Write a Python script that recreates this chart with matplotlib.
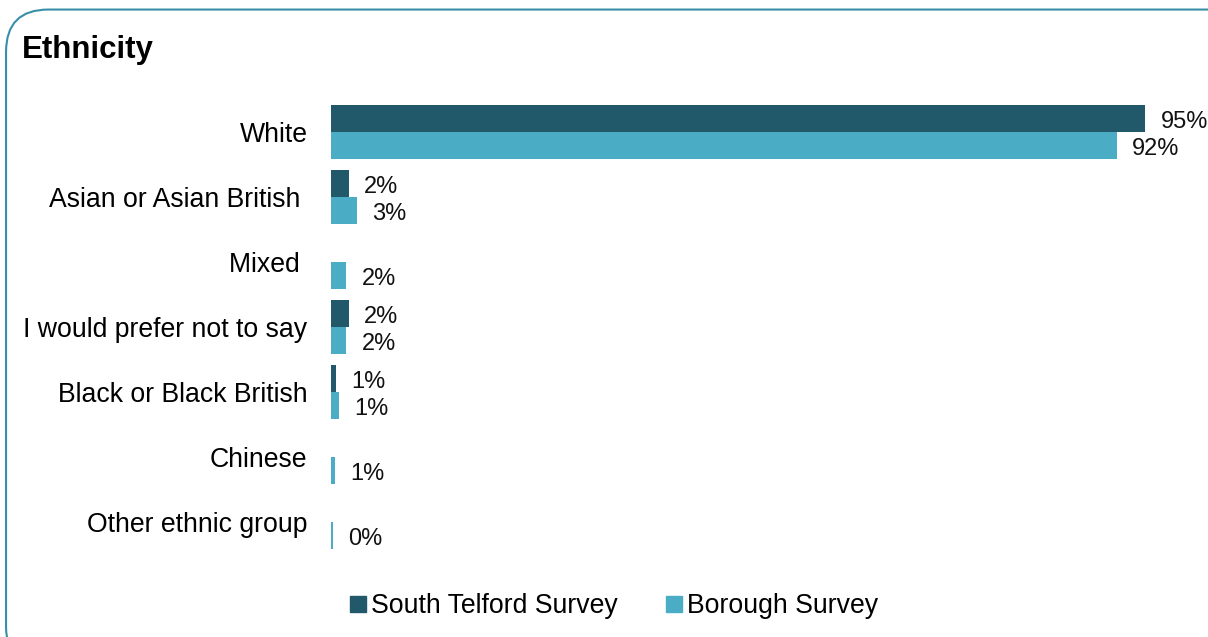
import numpy as np
import matplotlib.pyplot as plt
from matplotlib.patches import FancyBboxPatch

plt.rcParams['font.family'] = ['Liberation Sans', 'DejaVu Sans']

categories = ["White", "Asian or Asian British ", "Mixed ", "I would prefer not to say",
              "Black or Black British", "Chinese", "Other ethnic group"]
south_telford = [95, 2.1, None, 2.1, 0.6, None, None]
borough = [91.7, 3.0, 1.8, 1.8, 0.9, 0.5, 0.2]
series_names = ["South Telford Survey", "Borough Survey"]

dark = '#22596a'
light = '#4bacc6'

fig = plt.figure(figsize=(12.08, 6.37), dpi=100)

# rounded frame around the chart
frame = FancyBboxPatch((0.005, -0.05), 1.05, 1.035, boxstyle="round,pad=0,rounding_size=0.035",
                       transform=fig.transFigure, facecolor='none', edgecolor='#3a8fa8',
                       linewidth=1.5, mutation_aspect=1208 / 637, zorder=-1)
fig.patches.append(frame)

ax = fig.add_axes([0.274, 0.1295, 0.7094, 0.7143])
ax.set_facecolor('none')

y = np.arange(len(categories))
h = 0.42
for vals, off, col in [(south_telford, -h / 2, dark), (borough, h / 2, light)]:
    for yi, v in zip(y, vals):
        if v is None:
            continue
        ax.barh(yi + off, v, height=h, color=col)
        ax.annotate(f"{int(v + 0.5)}%", (v, yi + off), xytext=(11, -2.5), textcoords='offset points',
                    va='center', ha='left', fontsize=17, color='#111111')

ax.set_xlim(0, 100)
ax.set_ylim(len(categories) - 0.5, -0.5)
ax.set_yticks(y)
ax.set_yticklabels(categories, fontsize=19.2)
ax.tick_params(axis='y', length=0, pad=17)
ax.set_xticks([])
for s in ax.spines.values():
    s.set_visible(False)

fig.text(0.018, 0.921, "Ethnicity", fontsize=22.5, fontweight='bold', va='center', ha='left')

handles = [plt.Line2D([], [], marker='s', linestyle='', color=c, markersize=11) for c in (dark, light)]
fig.legend(handles, series_names, loc='center', bbox_to_anchor=(0.506, 0.048), ncol=2, frameon=False,
           fontsize=19.2, handletextpad=0.0, columnspacing=1.6, handlelength=1.0)

fig.savefig('out.png', dpi=100)
